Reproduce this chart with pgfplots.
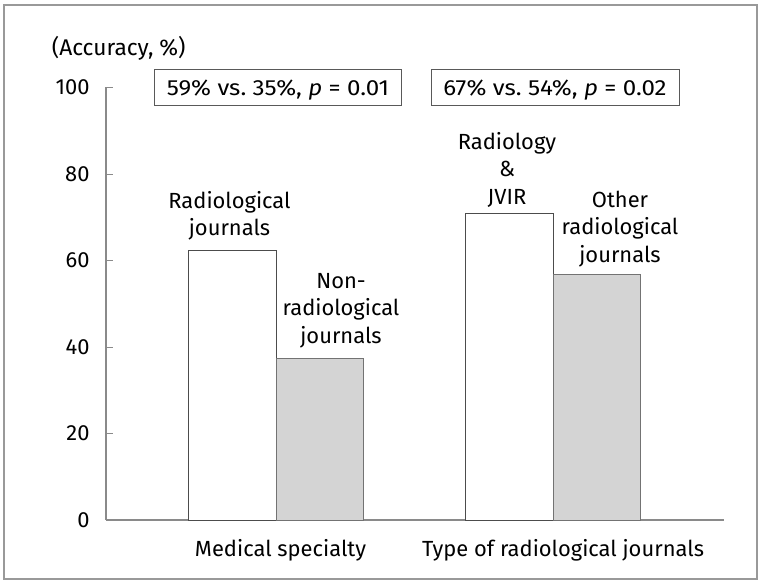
\documentclass[border=0pt]{standalone}
\usepackage{pgfplots}
\pgfplotsset{compat=1.18}
\usepackage{fontspec}
\setmainfont{Fira Sans}
\newfontfamily\boxfont[FakeStretch=1.1]{Fira Sans}
\definecolor{barfill}{HTML}{D4D4D4}
\definecolor{axisgray}{HTML}{8A8A8A}
\begin{document}
\begin{tikzpicture}[x=1bp,y=1bp]
\useasboundingbox (0,0) rectangle (763,585);
\draw[color=black!40, line width=1.6bp] (4,6) rectangle (757,580);
\begin{axis}[
  at={(106bp,65bp)}, anchor=south west,
  scale only axis, width=618bp, height=432.5bp,
  xmin=0, xmax=618, ymin=0, ymax=100,
  axis x line=bottom, axis y line=left,
  axis line style={axisgray, line width=1.2bp, -},
  ytick={0,20,40,60,80,100},
  ytick style={axisgray, line width=0.9bp},
  tick align=inside, major tick length=7bp,
  xtick={174.5,457},
  xticklabels={Medical specialty, Type of radiological journals},
  x tick style={draw=none},
  tick label style={font=\fontsize{22}{26}\selectfont},
  /pgf/number format/assume math mode=true,
  yticklabel shift=13bp,
  xticklabel shift=16bp,
  clip=false,
]
\addplot[ybar, bar width=87.5, bar shift=0pt, fill=white, draw=black!70, line width=0.9bp]
  coordinates {(126.5,62.4) (403.3,70.9)};
\addplot[ybar, bar width=87.5, bar shift=0pt, fill=barfill, draw=black!55, line width=0.9bp]
  coordinates {(214,37.4) (491,56.8)};
\end{axis}
\node[anchor=base west, inner sep=0pt, font=\fontsize{22.8}{27}\selectfont] at (51.7,529.3) {(Accuracy, \%)};
\draw[black!65, line width=1bp] (154,479) rectangle (401,515);
\draw[black!65, line width=1bp] (431,479) rectangle (679,515);
\node[anchor=base, inner sep=0pt, font=\boxfont\fontsize{22}{26}\selectfont] at (278,489) {59\% vs.\ 35\%, \textit{p} = 0.01};
\node[anchor=base, inner sep=0pt, font=\boxfont\fontsize{22}{26}\selectfont] at (555,489) {67\% vs.\ 54\%, \textit{p} = 0.02};
\node[anchor=base, align=center, inner sep=0pt, font=\fontsize{22}{27.4}\selectfont] at (229.5,349) {Radiological\\journals};
\node[anchor=base, align=center, inner sep=0pt, font=\fontsize{22}{27.4}\selectfont] at (341,241.7) {Non-\\radiological\\journals};
\node[anchor=base, align=center, inner sep=0pt, font=\fontsize{22}{27.4}\selectfont] at (507,380.7) {Radiology\\\&\\JVIR};
\node[anchor=base, align=center, inner sep=0pt, font=\fontsize{22}{27.4}\selectfont] at (620,322.7) {Other\\radiological\\journals};
\end{tikzpicture}
\end{document}
